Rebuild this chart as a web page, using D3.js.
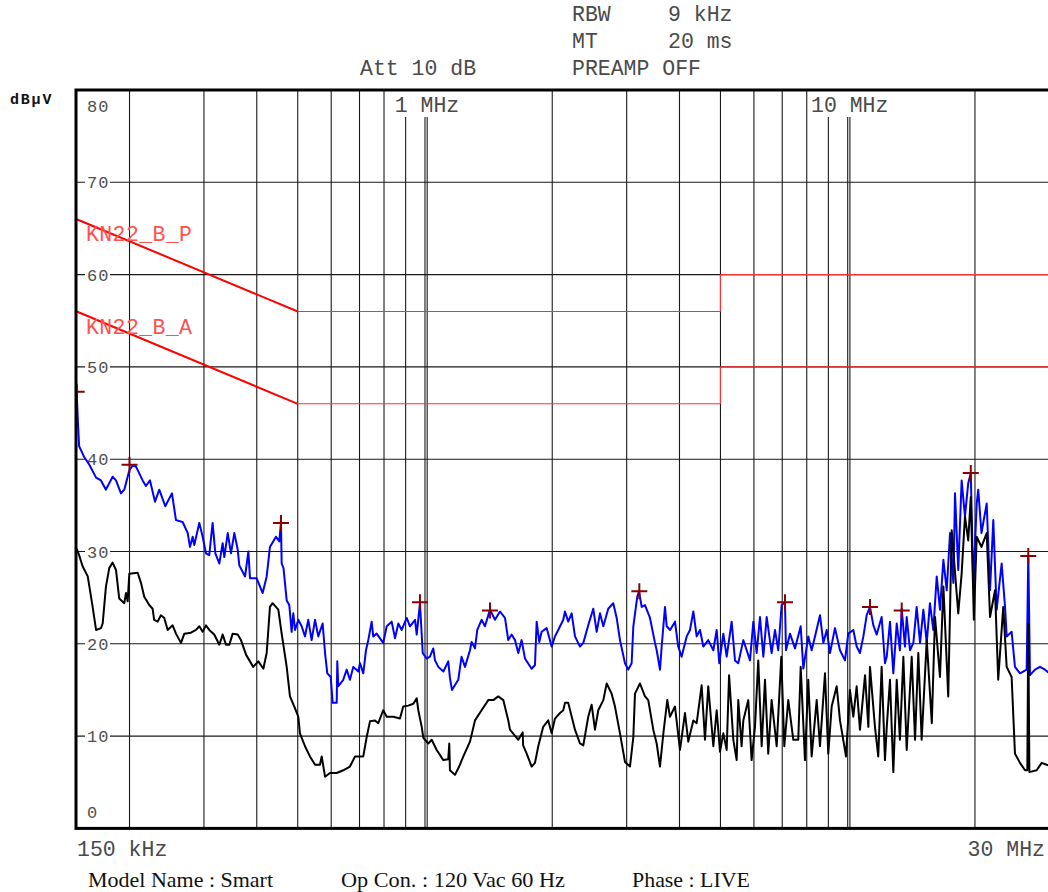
<!DOCTYPE html>
<html>
<head>
<meta charset="utf-8">
<script src="https://cdn.jsdelivr.net/npm/d3@7"></script>
<style>
  body { margin: 0; background: #fff; }
  text { font-family: "Liberation Mono", "DejaVu Sans Mono", monospace; }
</style>
</head>
<body>
<svg id="chart" width="1048" height="892"></svg>
<script>
// ---- data (frequency in MHz, level in dBuV) ----
var peakFreq = [0.150, 0.151, 0.152, 0.156, 0.1607, 0.1667, 0.1712, 0.1759, 0.1824, 0.1858, 0.1909, 0.1944, 0.1998, 0.2034, 0.2072, 0.2148, 0.2187, 0.2236, 0.2298, 0.2352,
  0.2430, 0.2520, 0.2576, 0.2671, 0.2746, 0.2780, 0.2821, 0.2846, 0.2925, 0.2979, 0.3033, 0.3088, 0.3145, 0.3192, 0.3262, 0.3322, 0.3352, 0.3415, 0.3476, 0.3539,
  0.3606, 0.3637, 0.3753, 0.3821, 0.3855, 0.3999, 0.4130, 0.4222, 0.4298, 0.4441, 0.4522, 0.4564, 0.4581, 0.4627, 0.4708, 0.4775, 0.4837, 0.4880, 0.4927, 0.5015,
  0.5108, 0.5202, 0.5296, 0.5393, 0.5494, 0.5592, 0.5726, 0.5802, 0.5874, 0.5984, 0.6048, 0.6182, 0.6202, 0.6236, 0.6407, 0.6528, 0.6645, 0.6766, 0.6954, 0.7018,
  0.7145, 0.7251, 0.7343, 0.7479, 0.7544, 0.7687, 0.7964, 0.8118, 0.8340, 0.8494, 0.8647, 0.8809, 0.9052, 0.9215, 0.9473, 0.9559, 0.9731, 0.9823, 0.9877, 1.0094,
  1.0273, 1.0461, 1.0560, 1.0754, 1.1051, 1.1352, 1.1456, 1.1583, 1.1987, 1.2204, 1.2434, 1.2777, 1.2893, 1.3130, 1.3295, 1.3611, 1.3865, 1.4248, 1.4641, 1.5045,
  1.5460, 1.5741, 1.6030, 1.6326, 1.6623, 1.6928, 1.7240, 1.7876, 1.8205, 1.8374, 1.8636, 1.8877, 1.9403, 1.9933, 2.0300, 2.0666, 2.1238, 2.1437, 2.1823, 2.2230,
  2.2637, 2.3262, 2.3689, 2.4334, 2.5008, 2.5478, 2.5940, 2.6416, 2.7136, 2.7886, 2.8410, 2.8925, 2.9724, 3.0259, 3.0821, 3.1106, 3.1783, 3.2082, 3.2556, 3.3145,
  3.4060, 3.5001, 3.5326, 3.5967, 3.6300, 3.6960, 3.7304, 3.8009, 3.9029, 3.9732, 4.0459, 4.1597, 4.2352, 4.3130, 4.3927, 4.4723, 4.5544, 4.6785, 4.8094, 4.8982,
  4.9681, 5.0787, 5.1725, 5.3144, 5.4117, 5.5091, 5.6633, 5.7678, 5.8724, 5.9803, 6.0907, 6.2012, 6.3151, 6.4317, 6.6076, 6.7292, 6.8503, 6.9780, 7.1059, 7.1450,
  7.3020, 7.5037, 7.7408, 7.8525, 8.0664, 8.2168, 8.3674, 8.5983, 8.7564, 8.9181, 9.0798, 9.3305, 9.5880, 9.8529, 10.03, 10.31, 10.50, 10.69, 10.89, 11.09,
  11.29, 11.50, 11.71, 12.03, 12.25, 12.37, 12.59, 12.82, 13.06, 13.29, 13.42, 13.66, 13.79, 14.04, 14.30, 14.56, 14.83, 15.10, 15.38, 15.65,
  15.94, 16.24, 16.53, 16.84, 17.15, 17.46, 17.78, 17.94, 18.26, 18.60, 18.94, 19.28, 19.55, 19.82, 20.19, 20.36, 20.72, 21.32, 21.71, 22.10,
  22.51, 23.13, 23.56, 23.77, 24.42, 24.87, 25.56, 26.51, 26.74, 26.99, 27.74, 28.50, 29.29, 30.0];
var peakLevel = [47.2, 44.0, 41.4, 40.3, 39.4, 38.0, 37.7, 36.7, 38.1, 37.7, 36.3, 36.7, 38.8, 39.3, 39.2, 37.7, 37.1, 37.7, 35.4, 36.7,
  34.9, 36.3, 33.4, 33.2, 32.0, 30.5, 31.6, 30.7, 33.1, 31.6, 29.8, 29.6, 33.1, 29.8, 28.7, 30.9, 29.4, 32.0, 29.8, 32.0,
  30.2, 28.5, 27.3, 30.0, 27.1, 27.1, 25.5, 27.3, 30.5, 31.6, 31.1, 33.1, 28.7, 28.2, 24.7, 24.2, 21.3, 23.3, 21.5, 22.6,
  21.9, 20.8, 22.6, 20.4, 22.6, 20.8, 22.2, 19.0, 16.8, 16.4, 13.6, 13.6, 18.1, 15.4, 16.1, 17.2, 16.1, 17.5, 17.0, 17.9,
  16.8, 19.3, 20.4, 22.4, 20.8, 21.1, 20.1, 21.9, 22.4, 20.6, 22.2, 21.5, 22.8, 21.9, 22.6, 21.0, 24.4, 21.0, 19.0, 18.4,
  18.6, 19.5, 18.2, 17.5, 17.0, 18.1, 16.3, 15.0, 16.1, 18.6, 17.5, 19.3, 20.2, 19.5, 21.5, 22.6, 21.9, 23.7, 22.6, 23.5,
  22.8, 20.4, 21.0, 20.4, 19.0, 20.4, 18.4, 17.3, 17.7, 22.4, 20.2, 21.3, 21.7, 19.7, 20.8, 21.5, 22.6, 23.5, 22.4, 23.3,
  20.8, 19.7, 20.1, 22.0, 23.8, 21.3, 23.3, 21.9, 23.8, 24.4, 22.8, 20.4, 17.9, 17.2, 17.9, 21.9, 25.1, 25.7, 24.0, 24.2,
  22.8, 20.1, 19.3, 17.2, 19.7, 24.0, 21.9, 21.5, 22.4, 19.7, 18.6, 20.8, 21.5, 23.5, 20.8, 21.5, 19.7, 20.4, 19.3, 21.5,
  17.9, 21.1, 18.6, 22.4, 18.2, 17.9, 20.4, 19.3, 18.2, 22.4, 19.0, 22.9, 18.6, 22.9, 19.0, 21.5, 19.3, 24.2, 24.5, 19.3,
  21.1, 19.5, 21.9, 17.3, 20.8, 19.3, 20.8, 23.1, 20.1, 21.5, 19.0, 21.7, 19.3, 18.2, 21.1, 21.5, 19.7, 19.0, 20.8, 23.1,
  24.0, 22.0, 21.0, 22.9, 17.9, 18.6, 22.4, 16.8, 22.2, 19.3, 23.8, 19.7, 22.9, 19.3, 20.1, 24.0, 20.1, 23.7, 20.1, 24.4,
  21.5, 27.3, 23.7, 29.1, 25.8, 32.0, 26.6, 36.3, 28.0, 37.7, 33.8, 37.4, 38.5, 26.2, 35.2, 36.7, 32.0, 35.2, 25.8, 33.4,
  23.7, 28.7, 24.0, 20.8, 21.3, 17.5, 16.8, 17.2, 29.6, 16.6, 17.2, 17.5, 17.2, 16.8];

var avgFreq = [0.150, 0.152, 0.1549, 0.1593, 0.1636, 0.1667, 0.1712, 0.1728, 0.1759, 0.1791, 0.1824, 0.1858, 0.1891, 0.1944, 0.1962, 0.1980, 0.1998, 0.2091, 0.2129, 0.2167,
  0.2227, 0.2268, 0.2287, 0.2332, 0.2373, 0.2417, 0.2462, 0.2529, 0.2576, 0.2647, 0.2696, 0.2795, 0.2873, 0.2925, 0.2979, 0.3033, 0.3088, 0.3173, 0.3262, 0.3322,
  0.3383, 0.3445, 0.3508, 0.3606, 0.3670, 0.3775, 0.3923, 0.4034, 0.4146, 0.4222, 0.4298, 0.4361, 0.4498, 0.4581, 0.4708, 0.4793, 0.4927, 0.5015, 0.5061, 0.5202,
  0.5344, 0.5494, 0.5645, 0.5697, 0.5802, 0.5960, 0.6182, 0.6407, 0.6645, 0.6832, 0.7145, 0.7280, 0.7411, 0.7618, 0.7754, 0.7964, 0.8118, 0.8415, 0.8726, 0.8883,
  0.9131, 0.9387, 0.9559, 0.9643, 0.9823, 0.9911, 1.0182, 1.0370, 1.0658, 1.1051, 1.1352, 1.1414, 1.1456, 1.1775, 1.2046, 1.2322, 1.2777, 1.3130, 1.3611, 1.4117,
  1.4510, 1.4904, 1.5321, 1.5741, 1.5887, 1.6623, 1.7025, 1.7068, 1.7400, 1.7876, 1.8205, 1.8536, 1.9041, 1.9570, 1.9933, 2.0300, 2.0860, 2.1238, 2.1437, 2.1823,
  2.2637, 2.3262, 2.3689, 2.4334, 2.4788, 2.5243, 2.5701, 2.6416, 2.6904, 2.7640, 2.8148, 2.8925, 2.9724, 3.0544, 3.1106, 3.1388, 3.2254, 3.3145, 3.3742, 3.4680,
  3.5326, 3.5967, 3.6637, 3.7426, 3.7980, 3.9029, 4.0106, 4.1214, 4.1964, 4.3130, 4.3927, 4.5128, 4.5958, 4.6785, 4.8094, 4.8982, 4.9871, 5.0787, 5.1725, 5.2400,
  5.3630, 5.4620, 5.5091, 5.6100, 5.6633, 5.8176, 5.9248, 6.0346, 6.1433, 6.2580, 6.3724, 6.4871, 6.6076, 6.7918, 6.9640, 7.0797, 7.2338, 7.4362, 7.6388, 7.7408,
  7.9238, 8.0664, 8.2168, 8.4452, 8.5983, 8.8359, 8.9949, 9.1634, 9.4173, 9.5880, 9.9071, 10.12, 10.31, 10.50, 10.69, 10.99, 11.19, 11.29, 11.60, 11.81,
  12.03, 12.25, 12.37, 12.59, 12.82, 13.06, 13.29, 13.54, 13.79, 14.17, 14.43, 14.69, 14.96, 15.38, 15.81, 16.09, 16.53, 16.84, 17.29, 17.62,
  18.26, 18.60, 18.94, 19.28, 19.55, 19.88, 20.19, 20.72, 21.32, 21.71, 22.31, 22.70, 23.33, 23.77, 24.42, 24.87, 25.56, 26.27, 26.60, 26.74,
  26.90, 27.99, 28.76, 29.55, 30.0];
var avgLevel = [30.3, 29.6, 28.4, 27.3, 24.0, 21.5, 21.7, 22.2, 26.2, 28.2, 28.8, 28.0, 24.9, 24.4, 25.5, 24.6, 27.6, 27.7, 26.6, 25.1,
  24.2, 23.8, 22.6, 22.4, 23.1, 22.8, 21.5, 22.0, 21.1, 20.1, 21.1, 21.2, 21.5, 21.9, 21.3, 22.0, 21.5, 21.0, 19.9, 21.0,
  19.9, 19.9, 21.1, 21.0, 20.4, 18.8, 17.5, 18.1, 17.3, 19.0, 24.0, 24.4, 23.7, 21.1, 17.5, 14.3, 13.0, 12.1, 10.3, 8.9,
  7.8, 6.9, 6.9, 7.8, 5.6, 6.0, 6.0, 6.3, 6.7, 7.8, 7.8, 9.9, 11.6, 11.7, 11.4, 12.8, 12.1, 12.1, 11.9, 13.2,
  13.3, 13.5, 14.1, 12.8, 11.0, 9.8, 9.2, 9.6, 8.5, 7.4, 7.5, 9.2, 6.3, 5.8, 6.7, 7.8, 9.4, 11.7, 12.8, 13.9,
  13.9, 14.3, 13.9, 11.7, 10.7, 9.6, 10.4, 9.0, 8.1, 6.7, 7.1, 8.9, 11.0, 11.7, 10.3, 11.9, 12.5, 12.8, 13.6, 13.6,
  10.7, 9.2, 9.0, 12.1, 13.4, 10.7, 12.8, 13.9, 15.7, 14.6, 13.2, 10.3, 7.2, 6.7, 9.9, 14.6, 15.7, 14.3, 13.9, 10.7,
  9.2, 6.7, 10.3, 13.9, 12.1, 13.2, 8.5, 12.5, 9.4, 11.7, 11.4, 15.5, 9.6, 15.4, 8.9, 12.8, 8.3, 10.3, 8.5, 16.6,
  9.6, 7.4, 13.9, 8.9, 11.7, 13.9, 7.4, 11.0, 18.2, 8.9, 16.1, 8.1, 13.9, 8.9, 18.6, 8.9, 13.9, 9.6, 9.6, 17.5,
  7.4, 16.1, 7.8, 13.9, 8.9, 16.8, 8.1, 13.2, 15.4, 11.7, 7.8, 15.0, 12.1, 15.4, 10.7, 16.6, 11.0, 17.5, 11.0, 7.8,
  17.5, 7.4, 11.0, 16.1, 6.1, 16.1, 9.6, 18.6, 8.5, 18.6, 9.6, 19.0, 9.6, 20.4, 11.4, 22.9, 16.4, 26.2, 14.3, 32.3,
  23.3, 27.6, 33.8, 31.2, 35.9, 22.6, 31.6, 30.5, 32.0, 22.9, 25.8, 16.1, 24.0, 17.5, 16.4, 8.1, 7.1, 6.3, 6.3, 22.2,
  6.1, 6.3, 7.1, 6.9, 6.8];

var markerFreq = [0.150, 0.200, 0.4564, 0.973, 1.425, 3.214, 7.106, 11.29, 13.42, 19.55, 26.74];
var markerLevel = [47.3, 39.4, 33.1, 24.5, 23.6, 25.7, 24.5, 24.0, 23.6, 38.5, 29.5];

var limitFreq = [0.15, 0.5, 5, 5, 30];
var limitPeak = [66, 56, 56, 60, 60];
var limitAvg = [56, 46, 46, 50, 50];
var limitNames = ["KN22_B_P", "KN22_B_A"];

var gridFreqs = [0.2, 0.3, 0.4, 0.5, 0.6, 0.7, 0.8, 0.9, 1, 2, 3, 4, 5, 6, 7, 8, 9, 10, 20];
var decadeFreqs = [1, 10];
var decadeLabels = ["1 MHz", "10 MHz"];
var levelTicks = [0, 10, 20, 30, 40, 50, 60, 70, 80];

// ---- layout ----
var svg = d3.select("#chart");
var plotLeft = 76, plotTop = 90, plotBottom = 828.4, plotRight = 1049.4;

var x = d3.scaleLog().domain([0.15, 30]).range([76.7, plotRight]);
var y = d3.scaleLinear().domain([0, 80]).range([plotBottom, plotTop]);

svg.append("rect").attr("width", 1048).attr("height", 892).attr("fill", "#fff");

svg.append("defs").append("clipPath").attr("id", "plot-clip")
  .append("rect").attr("x", plotLeft).attr("y", plotTop)
  .attr("width", plotRight - plotLeft + 2).attr("height", plotBottom - plotTop);

// Header settings text
var header = svg.append("g").attr("fill", "#4a4a4a").attr("font-size", 21.5);
header.append("text").attr("x", 572).attr("y", 21).text("RBW");
header.append("text").attr("x", 668).attr("y", 21).text("9 kHz");
header.append("text").attr("x", 572).attr("y", 48).text("MT");
header.append("text").attr("x", 668).attr("y", 48).text("20 ms");
header.append("text").attr("x", 360).attr("y", 75).text("Att 10 dB");
header.append("text").attr("x", 572).attr("y", 75).text("PREAMP OFF");

svg.append("text").attr("x", 10).attr("y", 104)
  .attr("font-size", 15).attr("font-weight", "bold").attr("letter-spacing", 1.8)
  .attr("fill", "#111").text("dBμV");

// Grid
var grid = svg.append("g").attr("stroke", "#1a1a1a").attr("stroke-width", 1.1);
grid.selectAll("line.v").data(gridFreqs).enter().append("line")
  .attr("class", "v")
  .attr("x1", function (d) { return x(d); })
  .attr("x2", function (d) { return x(d); })
  .attr("y1", plotTop).attr("y2", plotBottom);
// decade lines are drawn doubled on the analyser plot
grid.selectAll("line.d").data(decadeFreqs).enter().append("line")
  .attr("class", "d")
  .attr("x1", function (d) { return x(d) + 2.2; })
  .attr("x2", function (d) { return x(d) + 2.2; })
  .attr("y1", plotTop).attr("y2", plotBottom);
grid.selectAll("line.h").data(levelTicks.filter(function (v) { return v > 0 && v < 80; }))
  .enter().append("line")
  .attr("class", "h")
  .attr("x1", plotLeft).attr("x2", plotRight)
  .attr("y1", function (d) { return y(d); })
  .attr("y2", function (d) { return y(d); });

// Level labels, sitting inside the plot on a white patch
var levelLabels = svg.append("g");
levelTicks.forEach(function (v) {
  var cy = v === 80 ? y(v) + 16 : (v === 0 ? y(v) - 16 : y(v));
  levelLabels.append("rect").attr("x", 85).attr("y", cy - 8).attr("width", 25).attr("height", 16).attr("fill", "#fff");
  levelLabels.append("text").attr("x", 87).attr("y", cy + 6)
    .attr("font-size", 17).attr("letter-spacing", 1).attr("fill", "#505050").text(v);
});

// Decade labels on top
var decade = svg.append("g");
decadeFreqs.forEach(function (f, i) {
  var t = decade.append("text").attr("x", x(f) + 2).attr("y", 112)
    .attr("text-anchor", "middle").attr("font-size", 21.5).attr("fill", "#4a4a4a")
    .text(decadeLabels[i]);
  var b = t.node().getBBox();
  decade.insert("rect", "text").attr("x", b.x - 2).attr("y", plotTop + 1)
    .attr("width", b.width + 4).attr("height", 117 - plotTop - 1).attr("fill", "#fff");
});

// Plot contents
var plot = svg.append("g").attr("clip-path", "url(#plot-clip)");

// Limit lines: sloped part heavier than flat part
function drawLimit(levels, name) {
  for (var i = 0; i < limitFreq.length - 1; i++) {
    var sloped = levels[i] !== levels[i + 1] && limitFreq[i] !== limitFreq[i + 1];
    plot.append("line")
      .attr("x1", x(limitFreq[i])).attr("y1", y(levels[i]))
      .attr("x2", x(limitFreq[i + 1])).attr("y2", y(levels[i + 1]))
      .attr("stroke", sloped ? "#ff0000" : "#ff3030")
      .attr("stroke-width", sloped ? 2 : 1.1);
  }
  svg.append("text").attr("x", 86).attr("y", y(levels[0]) + 22)
    .attr("font-size", 21.5).attr("letter-spacing", 0.4).attr("fill", "#ff5050").text(name);
}
drawLimit(limitPeak, limitNames[0]);
drawLimit(limitAvg, limitNames[1]);

var line = d3.line()
  .x(function (d) { return x(d[0]); })
  .y(function (d) { return y(d[1]); });

plot.append("path")
  .datum(d3.zip(peakFreq, peakLevel))
  .attr("d", line)
  .attr("fill", "none").attr("stroke", "#0000ff").attr("stroke-width", 2)
  .attr("stroke-linejoin", "round");

plot.append("path")
  .datum(d3.zip(avgFreq, avgLevel))
  .attr("d", line)
  .attr("fill", "none").attr("stroke", "#000").attr("stroke-width", 2)
  .attr("stroke-linejoin", "round");

// Peak markers
plot.selectAll("path.marker").data(d3.zip(markerFreq, markerLevel)).enter().append("path")
  .attr("class", "marker")
  .attr("transform", function (d) { return "translate(" + x(d[0]) + "," + y(d[1]) + ")"; })
  .attr("d", "M-8,0H8M0,-8V8")
  .attr("stroke", "#8b0000").attr("stroke-width", 2).attr("fill", "none");

// Frame
svg.append("rect").attr("x", plotLeft).attr("y", plotTop)
  .attr("width", plotRight - plotLeft + 4).attr("height", plotBottom - plotTop)
  .attr("fill", "none").attr("stroke", "#000").attr("stroke-width", 3);

// Frequency span labels
svg.append("text").attr("x", 77).attr("y", 856).attr("font-size", 21.5).attr("fill", "#4a4a4a").text("150 kHz");
svg.append("text").attr("x", 1045).attr("y", 856).attr("text-anchor", "end")
  .attr("font-size", 21.5).attr("fill", "#4a4a4a").text("30 MHz");

// Test conditions
var info = [
  { t: "Model Name : Smart", x: 88, w: 185 },
  { t: "Op Con. : 120 Vac 60 Hz", x: 341, w: 224 },
  { t: "Phase : LIVE", x: 632, w: 118 }
];
svg.selectAll("text.info").data(info).enter().append("text")
  .attr("class", "info")
  .attr("x", function (d) { return d.x; })
  .attr("y", 887)
  .attr("textLength", function (d) { return d.w; })
  .attr("lengthAdjust", "spacingAndGlyphs")
  .style("font-family", "'Liberation Serif', serif")
  .attr("font-size", 21)
  .attr("fill", "#111")
  .text(function (d) { return d.t; });
</script>
</body>
</html>
